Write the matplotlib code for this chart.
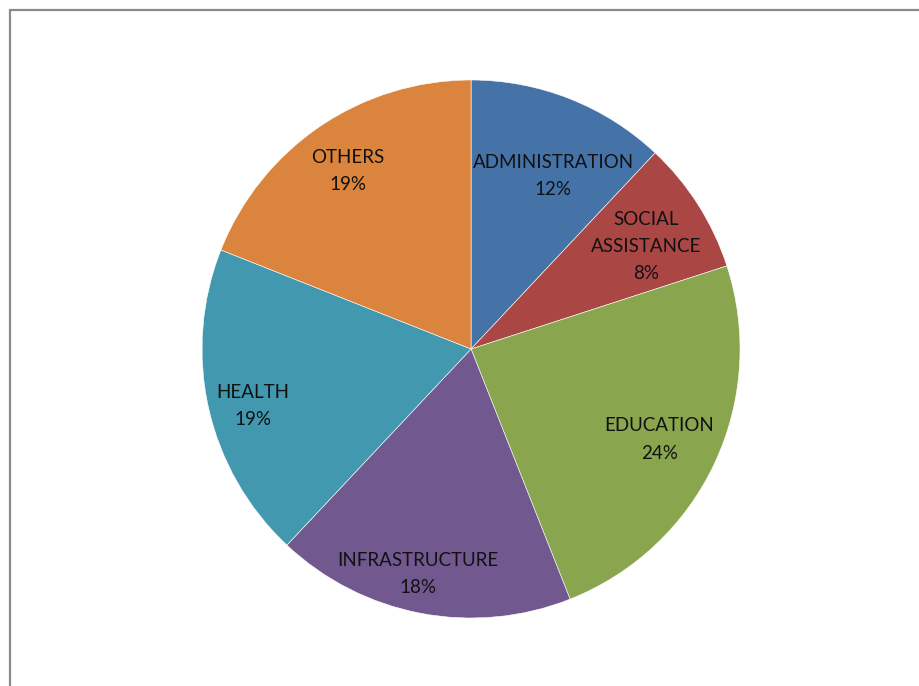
import numpy as np
import matplotlib.pyplot as plt
from matplotlib.patches import Rectangle

# Budget share by sector
sectors = ["ADMINISTRATION", "SOCIAL\nASSISTANCE", "EDUCATION",
           "INFRASTRUCTURE", "HEALTH", "OTHERS"]
shares = [12, 8, 24, 18, 19, 19]
colors = ["#4573A7", "#AA4644", "#89A54E", "#71588F", "#4198AF", "#DB843D"]

# label placement: fraction of radius, and nudge (deg) from the wedge's mid-angle
label_r = [0.713, 0.754, 0.776, 0.858, 0.839, 0.803]
label_dtheta = [-3.7, -2.0, -0.5, -2.5, 2.1, 0.5]

fig = plt.figure(figsize=(9.2, 6.86), dpi=100)
fig.patch.set_facecolor("white")

# chart-area frame (only top and left edges show)
fig.patches.append(Rectangle((10.5 / 920, -0.1), 1.2, 1 - 9.5 / 686 + 0.1,
                             transform=fig.transFigure, fill=False,
                             edgecolor="#8a8a8a", linewidth=1.6))

ax = fig.add_axes([0.2196, 0.0991, 0.5848, 0.7843])
wedges, _ = ax.pie(shares, colors=colors, startangle=90, counterclock=False,
                   radius=1.0, wedgeprops=dict(edgecolor="white", linewidth=0.4))

total = float(sum(shares))
for w, name, val, r, dt in zip(wedges, sectors, shares, label_r, label_dtheta):
    mid = np.deg2rad((w.theta1 + w.theta2) / 2 + dt)
    ax.text(r * np.cos(mid), r * np.sin(mid), f"{name}\n{val / total:.0%}",
            ha="center", va="center", fontsize=13.5, family="Lato",
            color="#111111", linespacing=1.72)

ax.set_xlim(-1, 1)
ax.set_ylim(-1, 1)
ax.set_aspect("equal")
ax.axis("off")

fig.savefig("out.png", dpi=100)
